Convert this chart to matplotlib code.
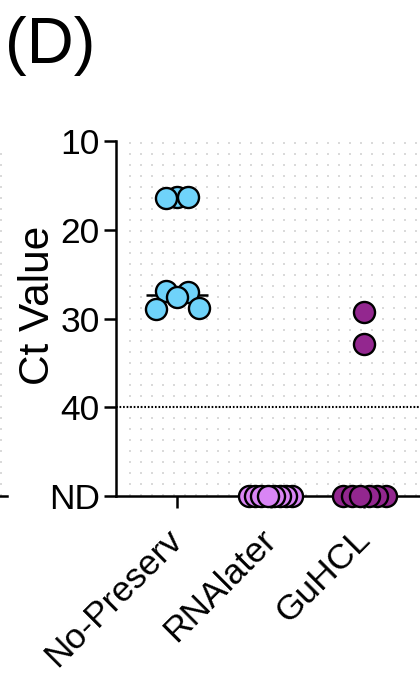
import numpy as np
import matplotlib
matplotlib.use("Agg")
import matplotlib.pyplot as plt

plt.rcParams['font.family'] = ['Liberation Sans', 'DejaVu Sans']

# data (Ct values, 50 = ND / not detected)
groups = ["No-Preserv", "RNAlater", "GuHCL"]
no_preserv_ct = [16.3, 16.3, 16.4, 26.9, 27.0, 27.6, 28.8, 28.9]
rnalater_ct = [50, 50, 50, 50, 50, 50, 50, 50]
guhcl_ct = [29.3, 32.9, 50, 50, 50, 50, 50, 50]
median_ct = [27.3, 50, 50]
group_colors = ["#6FD3FA", "#D985F5", "#93278F"]
ytick_values = [10, 20, 30, 40, 50]
ytick_labels = ["10", "20", "30", "40", "ND"]
detection_limit = 40
nd_value = 50


def spread(values, step, max_half, gap):
    # simple prism-like scatter: points close in value share a row and are
    # spread symmetrically around the category centre
    vals = np.asarray(values, float)
    offs = np.zeros(len(vals))
    order = list(np.argsort(vals, kind="stable"))
    clusters = [[order[0]]]
    for i in order[1:]:
        if vals[i] - vals[clusters[-1][-1]] < gap:
            clusters[-1].append(i)
        else:
            clusters.append([i])
    for c in clusters:
        n = len(c)
        if n == 1:
            continue
        s = min(step, 2 * max_half / (n - 1))
        slots = (np.arange(n) - (n - 1) / 2) * s
        slots = sorted(slots, key=lambda p: (round(abs(p), 6), -p))
        m = vals[c].mean()
        members = sorted(c, key=lambda i: round(abs(vals[i] - m), 6))
        for i, p in zip(members, slots):
            offs[i] = p
    return vals, offs


W, H = 420, 673
fig = plt.figure(figsize=(W / 100, H / 100), dpi=100)

left, right, top, bottom = 116, 420, 141, 496
ax = fig.add_axes([left / W, 1 - bottom / H, (right - left) / W, (bottom - top) / H])

px_per_unit = 93.7
x0 = (left - 177) / px_per_unit
x1 = (right - 177) / px_per_unit
ax.set_xlim(x0, x1)
ax.set_ylim(50, 10)

# dotted background pattern
ax.set_xticks(np.arange(-0.5, x1, 11 / px_per_unit), minor=True)
ax.grid(which='minor', axis='x', color='#dadada', lw=1.44, linestyle=(0, (1, 4.5)))
ax.grid(which='major', visible=False)
ax.set_axisbelow(True)

ax.axhline(detection_limit, color='black', lw=1.5, linestyle=(0, (0.8, 0.9)), zorder=2)

all_data = [no_preserv_ct, rnalater_ct, guhcl_ct]
for gi, (vals_in, col) in enumerate(zip(all_data, group_colors)):
    vals, offs = spread(vals_in, step=11 / px_per_unit, max_half=21.5 / px_per_unit, gap=2.3)
    # ND points: outer ones first so the middle one ends up on top
    draw = sorted(range(len(vals)),
                  key=lambda i: (vals[i] == nd_value, -abs(offs[i]) if vals[i] == nd_value else i))
    ax.hlines(median_ct[gi], gi - 0.33, gi + 0.33, color='black', lw=1.8, zorder=3, clip_on=False)
    ax.scatter(gi + offs[draw], vals[draw], s=230, c=col, edgecolors='black',
               linewidths=1.7, zorder=4, clip_on=False)

for side in ['top', 'right']:
    ax.spines[side].set_visible(False)
for side in ['left', 'bottom']:
    ax.spines[side].set_linewidth(1.8)

ax.set_yticks(ytick_values)
ax.set_yticklabels(ytick_labels)
ax.set_xticks(range(len(groups)))
ax.set_xticklabels(groups, rotation=45, ha='right', va='center', rotation_mode='anchor')
ax.tick_params(axis='both', which='major', length=8.6, width=1.8, labelsize=25.5, pad=3)
ax.tick_params(axis='x', which='major', pad=19)
ax.tick_params(which='minor', length=0)

fig.text(38 / W, 1 - 305 / H, "Ct Value", rotation=90, ha='center', va='center', fontsize=30.5)
fig.text(5 / W, 1 - 63 / H, "(D)", fontsize=47, ha='left', va='baseline')

# edge of the neighbouring panel
ax0 = fig.add_axes([0, 1 - bottom / H, 7 / W, (bottom - 150) / H])
ax0.set_xlim(0, 7)
ax0.set_ylim(0, 1)
for side in ['top', 'right', 'left']:
    ax0.spines[side].set_visible(False)
ax0.spines['bottom'].set_linewidth(1.8)
ax0.set_xticks([])
ax0.set_yticks([])
ax0.patch.set_alpha(0)
ax0.axvline(1.3, color='#dadada', lw=1.44, linestyle=(0, (1, 4.5)))

fig.savefig("out.png", dpi=100)
